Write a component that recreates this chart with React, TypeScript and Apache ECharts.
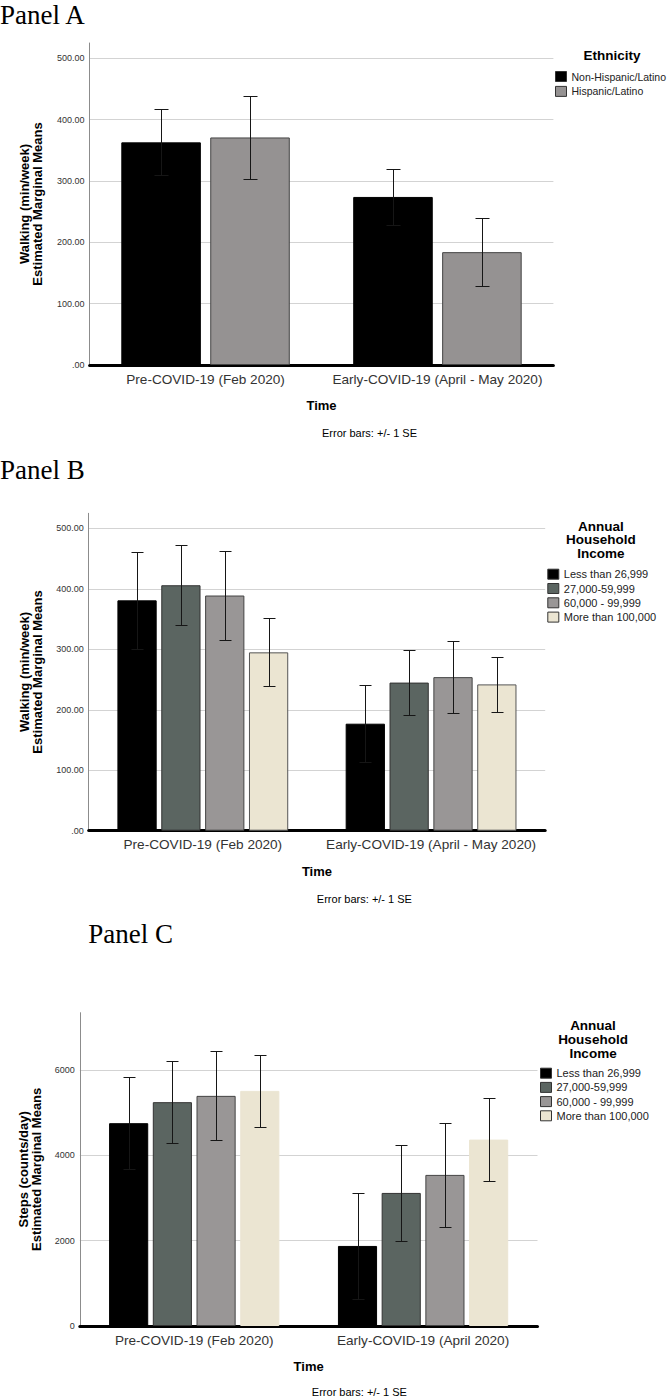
import React, { useEffect, useRef } from 'react';
import * as echarts from 'echarts';

const SANS = '"Liberation Sans", Arial, Helvetica, sans-serif';
const SERIF = '"Liberation Serif", "Times New Roman", serif';

// ---------- data ----------
const walkCategories = ['Pre-COVID-19 (Feb 2020)', 'Early-COVID-19 (April - May 2020)'];
const stepCategories = ['Pre-COVID-19 (Feb 2020)', 'Early-COVID-19 (April 2020)'];

const ethnicityNames = ['Non-Hispanic/Latino', 'Hispanic/Latino'];
const incomeNames = ['Less than 26,999', '27,000-59,999', '60,000 - 99,999', 'More than 100,000'];

// Panel A: walking (min/week) by ethnicity
const walkNonHispanic = [363, 274];
const walkNonHispanicSE = [54, 45];
const walkHispanic = [371, 184];
const walkHispanicSE = [68, 56];

// Panel B: walking (min/week) by income
const walkLess26 = [381, 177];
const walkLess26SE = [80, 64];
const walk27to59 = [406, 245];
const walk27to59SE = [66, 54];
const walk60to99 = [389, 254];
const walk60to99SE = [73, 60];
const walkMore100 = [295, 242];
const walkMore100SE = [56, 46];

// Panel C: steps (counts/day) by income
const stepLess26 = [4758, 1878];
const stepLess26SE = [1080, 1237];
const step27to59 = [5251, 3122];
const step27to59SE = [967, 1120];
const step60to99 = [5399, 3545];
const step60to99SE = [1045, 1213];
const stepMore100 = [5516, 4373];
const stepMore100SE = [850, 983];

// ---------- styles ----------
const ethnicityColors = ['#000000', '#959292'];
const incomeColors = ['#000000', '#5b6561', '#999696', '#ebe5d2'];

type PanelCfg = {
  grid: { left: number; top: number; width: number; height: number };
  categories: string[];
  names: string[];
  colors: string[];
  borders: string[];
  means: number[][];
  ses: number[][];
  max: number;
  interval: number;
  decimals: boolean;
  yName: string;
  barFrac: number;
  gapFrac: number;
  cap: number;
  yNameGap: number;
};

function buildPanel(idx: number, cfg: PanelCfg) {
  const grid = { ...cfg.grid, outerBoundsMode: 'none', containLabel: false };
  const xAxis = {
    type: 'category',
    gridIndex: idx,
    data: cfg.categories,
    axisLine: { show: true, lineStyle: { color: '#000', width: 3 } },
    axisTick: { show: false },
    axisLabel: { interval: 0, fontSize: 13.6, color: '#333', fontFamily: SANS, margin: 7 },
    splitLine: { show: false },
    name: 'Time',
    nameLocation: 'middle',
    nameGap: 34,
    nameTextStyle: { fontWeight: 'bold', fontSize: 13, color: '#000', fontFamily: SANS },
  };
  const yAxis = {
    type: 'value',
    gridIndex: idx,
    min: 0,
    max: cfg.max,
    interval: cfg.interval,
    axisLine: { show: true, lineStyle: { color: '#8c8c8c', width: 1 } },
    axisTick: { show: false },
    axisLabel: {
      fontSize: 9,
      color: '#333',
      fontFamily: SANS,
      margin: 5,
      formatter: (v: number) => {
        if (Math.abs(v % cfg.interval) > 1e-6) return '';
        if (!cfg.decimals) return String(v);
        return v === 0 ? '.00' : v.toFixed(2);
      },
    },
    splitLine: { show: true, showMaxLine: false, lineStyle: { color: '#d3d3d3', width: 1 } },
    name: cfg.yName,
    nameLocation: 'middle',
    nameGap: cfg.yNameGap,
    nameTextStyle: { fontWeight: 'bold', fontSize: 13, color: '#000', fontFamily: SANS, lineHeight: 13 },
  };
  const n = cfg.names.length;
  const series: any[] = [];
  cfg.names.forEach((name, i) => {
    series.push({
      type: 'bar',
      name,
      xAxisIndex: idx,
      yAxisIndex: idx,
      data: cfg.means[i],
      barWidth: (cfg.barFrac * 100).toFixed(2) + '%',
      barGap: (cfg.gapFrac * 100).toFixed(2) + '%',
      itemStyle: { color: cfg.colors[i], borderColor: cfg.borders[i], borderWidth: 1 },
      silent: true,
    });
  });
  cfg.names.forEach((name, i) => {
    const barIndex = i;
    series.push({
      type: 'custom',
      name: name + ' SE',
      xAxisIndex: idx,
      yAxisIndex: idx,
      z: 10,
      silent: true,
      encode: { x: 0, y: [1, 2] },
      data: cfg.means[i].map((m, k) => [k, m - cfg.ses[i][k], m + cfg.ses[i][k]]),
      renderItem: (_params: any, api: any) => {
        const band = api.size([1, 0])[0];
        const bw = band * cfg.barFrac;
        const off = (barIndex - (n - 1) / 2) * bw * (1 + cfg.gapFrac);
        const lo = api.coord([api.value(0), api.value(1)]);
        const hi = api.coord([api.value(0), api.value(2)]);
        const x = Math.round(lo[0] + off) + 0.5;
        const yl = Math.round(lo[1]) + 0.5;
        const yh = Math.round(hi[1]) + 0.5;
        const half = cfg.cap / 2;
        const style = { stroke: '#161616', lineWidth: 1 };
        return {
          type: 'group',
          children: [
            { type: 'line', shape: { x1: x, y1: yh, x2: x, y2: yl }, style },
            { type: 'line', shape: { x1: x - half, y1: yh, x2: x + half, y2: yh }, style },
            { type: 'line', shape: { x1: x - half, y1: yl, x2: x + half, y2: yl }, style },
          ],
        };
      },
    });
  });
  return { grid, xAxis, yAxis, series };
}

function legendTitle(text: string, x: number, y: number) {
  return {
    type: 'text',
    x,
    y,
    silent: true,
    style: {
      text,
      align: 'center',
      verticalAlign: 'middle',
      fontFamily: SANS,
      fontWeight: 'bold',
      fontSize: 13.5,
      lineHeight: 13.8,
      fill: '#000',
    },
  };
}

function plainText(text: string, x: number, y: number, size: number, family: string, align = 'center') {
  return {
    type: 'text',
    x,
    y,
    silent: true,
    style: { text, align, verticalAlign: 'middle', fontFamily: family, fontSize: size, fill: '#000' },
  };
}

function legend(data: string[], left: number, top: number, gap: number, fontSize: number) {
  return {
    show: true,
    orient: 'vertical',
    left,
    top,
    data,
    icon: 'rect',
    itemWidth: 11,
    itemHeight: 10,
    itemGap: gap,
    padding: 0,
    selectedMode: false,
    itemStyle: { borderColor: '#333', borderWidth: 1 },
    textStyle: { fontSize, color: '#222', fontFamily: SANS },
  };
}

export default function App() {
  const ref = useRef<HTMLDivElement>(null);
  useEffect(() => {
    if (!ref.current) return;
    const chart = echarts.init(ref.current, null, { renderer: 'svg' });

    const pA = buildPanel(0, {
      grid: { left: 89.6, top: 43, width: 463.8, height: 322 },
      categories: walkCategories,
      names: ethnicityNames,
      colors: ethnicityColors,
      borders: ['#000', '#444'],
      means: [walkNonHispanic, walkHispanic],
      ses: [walkNonHispanicSE, walkHispanicSE],
      max: 525,
      interval: 100,
      decimals: true,
      yName: 'Walking (min/week)\nEstimated Marginal Means',
      barFrac: 0.343,
      gapFrac: 0.118,
      cap: 14,
      yNameGap: 46,
    });
    const pB = buildPanel(1, {
      grid: { left: 88.7, top: 513.3, width: 456.5, height: 317.4 },
      categories: walkCategories,
      names: incomeNames,
      colors: incomeColors,
      borders: ['#000', '#333', '#444', '#555'],
      means: [walkLess26, walk27to59, walk60to99, walkMore100],
      ses: [walkLess26SE, walk27to59SE, walk60to99SE, walkMore100SE],
      max: 525,
      interval: 100,
      decimals: true,
      yName: 'Walking (min/week)\nEstimated Marginal Means',
      barFrac: 0.172,
      gapFrac: 0.117,
      cap: 12,
      yNameGap: 45,
    });
    const pC = buildPanel(2, {
      grid: { left: 79.8, top: 1012.7, width: 457.7, height: 313.3 },
      categories: stepCategories,
      names: incomeNames,
      colors: incomeColors,
      borders: ['#000', '#333', '#444', '#ebe5d2'],
      means: [stepLess26, step27to59, step60to99, stepMore100],
      ses: [stepLess26SE, step27to59SE, step60to99SE, stepMore100SE],
      max: 7350,
      interval: 2000,
      decimals: false,
      yName: 'Steps (counts/day)\nEstimated Marginal Means',
      barFrac: 0.171,
      gapFrac: 0.117,
      cap: 12,
      yNameGap: 37,
    });

    chart.setOption({
      animation: false,
      backgroundColor: '#ffffff',
      textStyle: { fontFamily: SANS },
      grid: [pA.grid, pB.grid, pC.grid],
      xAxis: [pA.xAxis, pB.xAxis, pC.xAxis],
      yAxis: [pA.yAxis, pB.yAxis, pC.yAxis],
      legend: [
        legend(ethnicityNames, 555, 71, 3.9, 10.5),
        legend(incomeNames, 547.3, 568.7, 3.3, 11),
        legend(incomeNames, 540, 1067.7, 3.2, 11),
      ],
      series: [...pA.series, ...pB.series, ...pC.series],
      graphic: [
        plainText('Panel A', 0, 14.5, 27, SERIF, 'left'),
        plainText('Panel B', 0, 470, 27, SERIF, 'left'),
        plainText('Panel C', 88.3, 934, 27, SERIF, 'left'),
        legendTitle('Ethnicity', 612, 55.5),
        legendTitle('Annual\nHousehold\nIncome', 600.8, 539.8),
        legendTitle('Annual\nHousehold\nIncome', 593, 1039.7),
        plainText('Error bars: +/- 1 SE', 369.5, 433.3, 11, SANS),
        plainText('Error bars: +/- 1 SE', 364.4, 899.3, 11, SANS),
        plainText('Error bars: +/- 1 SE', 359.4, 1392.3, 11, SANS),
      ],
    });
    return () => chart.dispose();
  }, []);
  return (
    <div
      ref={ref}
      style={{ position: 'absolute', left: 0, top: 0, width: 669, height: 1397, background: '#fff' }}
    />
  );
}
